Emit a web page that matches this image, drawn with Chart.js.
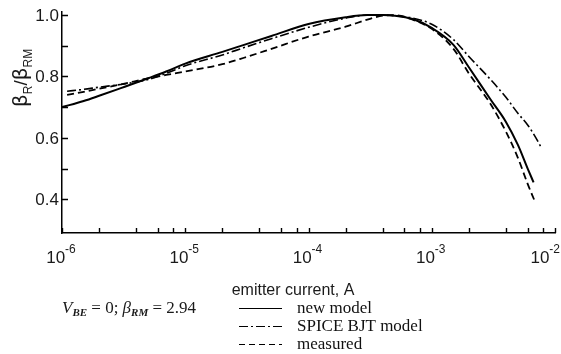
<!DOCTYPE html>
<html><head><meta charset="utf-8">
<script src="https://cdn.jsdelivr.net/npm/chart.js@4/dist/chart.umd.min.js"></script>
<style>html,body{margin:0;padding:0;background:#fff}#wrap{width:561px;height:354px;position:relative}</style>
</head><body><div id="wrap"><canvas id="c" width="561" height="354"></canvas></div>
<script>
// ---- data ----
const newModelCurrent = [1e-6,1.5e-6,2e-6,3e-6,5e-6,7e-6,1e-5,2e-5,3e-5,5e-5,1e-4,2e-4,3e-4,4e-4,5e-4,7e-4,1e-3,1.5e-3,2e-3,3e-3,4e-3,5e-3,6e-3,6.7e-3];
const newModelBeta    = [0.70,0.72,0.737,0.762,0.794,0.816,0.842,0.88,0.903,0.932,0.971,0.993,1.0,1.0,0.998,0.987,0.958,0.903,0.83,0.725,0.652,0.577,0.50,0.455];

const spiceCurrent = [1.1e-6,1.5e-6,2e-6,3e-6,5e-6,7e-6,1e-5,2e-5,3e-5,5e-5,1e-4,2e-4,3e-4,4e-4,5e-4,7e-4,1e-3,1.5e-3,2e-3,3e-3,4e-3,5e-3,6e-3,7e-3,7.8e-3];
const spiceBeta    = [0.752,0.758,0.765,0.774,0.79,0.81,0.835,0.87,0.894,0.923,0.96,0.99,1.0,1.0,0.998,0.99,0.97,0.92,0.865,0.79,0.732,0.68,0.642,0.6,0.566];

const measuredCurrent = [1.1e-6,1.5e-6,2e-6,3e-6,5e-6,7e-6,1e-5,2e-5,3e-5,5e-5,1e-4,2e-4,3e-4,4e-4,5e-4,7e-4,1e-3,1.5e-3,2e-3,3e-3,4e-3,5e-3,6e-3,6.8e-3];
const measuredBeta    = [0.74,0.75,0.76,0.774,0.794,0.805,0.816,0.84,0.861,0.89,0.93,0.962,0.985,0.998,1.0,0.985,0.955,0.89,0.81,0.71,0.62,0.535,0.45,0.397];

const seriesNames = ['new model','SPICE BJT model','measured'];
const yMajorTicks = [0.4,0.6,0.8,1.0];
const yMinorTicks = [0.5,0.7,0.9];
const xDecadeTicks = [1e-6,1e-5,1e-4,1e-3,1e-2];
const xDecadeExponents = ['-6','-5','-4','-3','-2'];
const xMinorMultipliers = [2,4,6,8];
const xTitle = 'emitter current, A';

// ---- chart ----
const pts = (xs, ys) => xs.map((x,i)=>({x:x,y:ys[i]}));
const dashes = [[], [9,3,2,3], [7,4]];
const widths = [2, 1.6, 1.8];

function runs(ctx, x, y, parts){
  let cx = x;
  for (const p of parts){
    ctx.font = p.font;
    ctx.fillText(p.text, cx, y + (p.dy||0));
    cx += ctx.measureText(p.text).width;
  }
  return cx;
}

const decor = {
  id:'decor',
  afterDraw(chart){
    const ctx = chart.ctx, xs = chart.scales.x, ys = chart.scales.y;
    const ca = chart.chartArea;
    ctx.save();
    ctx.strokeStyle = '#000'; ctx.fillStyle = '#1a1a1a'; ctx.lineWidth = 1.4;
    ctx.beginPath();
    for (const v of yMajorTicks.concat(yMinorTicks)){
      const py = Math.round(ys.getPixelForValue(v))+0.5;
      ctx.moveTo(ca.left, py); ctx.lineTo(ca.left+6, py);
    }
    for (let d=0; d<xDecadeTicks.length; d++){
      const px = Math.round(xs.getPixelForValue(xDecadeTicks[d]))+0.5;
      ctx.moveTo(px, ca.bottom); ctx.lineTo(px, ca.bottom-5);
      if (d < xDecadeTicks.length-1){
        for (const m of xMinorMultipliers){
          const qx = Math.round(xs.getPixelForValue(xDecadeTicks[d]*m))+0.5;
          ctx.moveTo(qx, ca.bottom); ctx.lineTo(qx, ca.bottom-5);
        }
      }
    }
    ctx.stroke();
    ctx.font = '17px "Liberation Sans", Arial, sans-serif';
    ctx.textAlign = 'right'; ctx.textBaseline = 'middle';
    for (const v of yMajorTicks){
      ctx.fillText(v.toFixed(1), ca.left-3, ys.getPixelForValue(v)+1);
    }
    ctx.textAlign = 'left'; ctx.textBaseline = 'alphabetic';
    const bigF = '17px "Liberation Sans", Arial, sans-serif';
    const supF = '12px "Liberation Sans", Arial, sans-serif';
    for (let d=0; d<xDecadeTicks.length; d++){
      const px = xs.getPixelForValue(xDecadeTicks[d]);
      ctx.font = bigF; const w1 = ctx.measureText('10').width;
      ctx.font = supF; const w2 = ctx.measureText(xDecadeExponents[d]).width;
      let x0 = px - (w1+w2)/2 - 1;
      if (x0 + w1 + w2 > 560) x0 = 560 - w1 - w2;
      runs(ctx, x0, 263, [{text:'10', font:bigF},{text:xDecadeExponents[d], font:supF, dy:-10}]);
    }
    ctx.font = '16px "Liberation Sans", Arial, sans-serif';
    ctx.textAlign = 'center';
    ctx.fillText(xTitle, 293, 295);
    ctx.save();
    ctx.translate(27, 107);
    ctx.rotate(-Math.PI/2);
    ctx.textAlign = 'left';
    const gF = '20px "DejaVu Sans", sans-serif';
    const sF = '12px "Liberation Sans", Arial, sans-serif';
    runs(ctx, 0, 0, [
      {text:'β', font:gF},{text:'R', font:sF, dy:5},
      {text:'/', font:'19px "Liberation Sans", Arial, sans-serif'},
      {text:'β', font:gF},{text:'RM', font:sF, dy:5}
    ]);
    ctx.restore();
    ctx.textAlign = 'left';
    const it = 'italic 17px "Liberation Serif", "Times New Roman", serif';
    const rg = '17px "Liberation Serif", "Times New Roman", serif';
    const sb = 'bold italic 11px "Liberation Serif", "Times New Roman", serif';
    runs(ctx, 62, 313, [
      {text:'V', font:it},{text:'BE', font:sb, dy:3},
      {text:' = 0; ', font:rg},
      {text:'β', font:it},{text:'RM', font:sb, dy:3},
      {text:' = 2.94', font:rg}
    ]);
    const rowY = [308, 326, 344];
    for (let i=0;i<3;i++){
      ctx.save();
      ctx.strokeStyle = '#000';
      ctx.lineWidth = 1;
      ctx.setLineDash(i===1 ? [9,3,2,3] : (i===2 ? [6,4] : []));
      ctx.beginPath(); ctx.moveTo(239, rowY[i]+0.5); ctx.lineTo(282, rowY[i]+0.5); ctx.stroke();
      ctx.restore();
      ctx.font = rg; ctx.fillStyle = '#111';
      ctx.fillText(seriesNames[i], 297, rowY[i]+5);
    }
    ctx.restore();
  }
};

new Chart(document.getElementById('c'), {
  type:'line',
  data:{ datasets:[
    {label:seriesNames[0], data:pts(newModelCurrent,newModelBeta)},
    {label:seriesNames[1], data:pts(spiceCurrent,spiceBeta)},
    {label:seriesNames[2], data:pts(measuredCurrent,measuredBeta)}
  ].map((d,i)=>Object.assign(d,{borderColor:'#000',borderWidth:widths[i],borderDash:dashes[i],pointRadius:0,fill:false,cubicInterpolationMode:'monotone'}))},
  options:{
    responsive:false, animation:false, devicePixelRatio:1,
    layout:{padding:{left:62,right:6,top:12,bottom:121}},
    plugins:{legend:{display:false},tooltip:{enabled:false}},
    scales:{
      x:{type:'logarithmic', min:1e-6, max:1e-2,
         ticks:{display:false}, grid:{display:false, drawTicks:false},
         border:{display:true,color:'#000',width:1.5}},
      y:{type:'linear', min:0.29, max:1.01,
         ticks:{display:false}, grid:{display:false, drawTicks:false},
         border:{display:true,color:'#000',width:1.5}}
    }
  },
  plugins:[decor]
});
</script></body></html>
